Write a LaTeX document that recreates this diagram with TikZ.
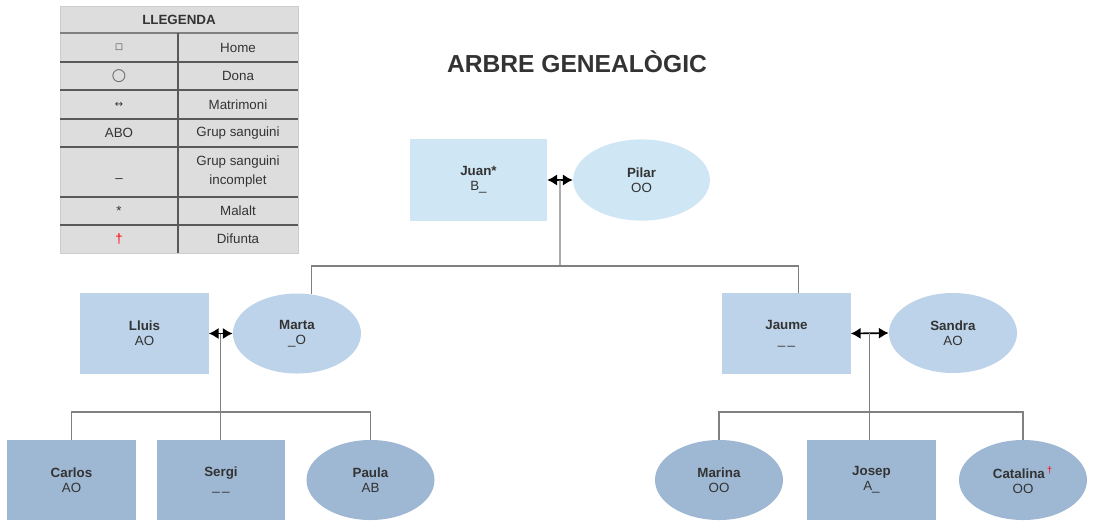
\documentclass[tikz,border=0pt]{standalone}
\usepackage{fontspec}
\setmainfont{Liberation Sans}
\newfontfamily\symfont{DejaVu Sans}
\usetikzlibrary{shapes.geometric,arrows.meta}
\definecolor{gena}{RGB}{207,230,244}
\definecolor{genb}{RGB}{189,211,233}
\definecolor{genc}{RGB}{158,184,212}
\definecolor{legfill}{RGB}{221,221,221}
\definecolor{txt}{RGB}{51,51,51}
\tikzset{
	person/.style={align=center, text=txt, inner sep=0pt, font=\fontsize{9.5}{10.6}\selectfont},
	home/.style={person, rectangle, minimum width=3.2cm, minimum height=2cm},
	dona/.style={person, ellipse, minimum width=3.2cm, minimum height=2cm},
	marriage/.style={{Latex[length=7pt,width=8pt]}-{Latex[length=7pt,width=8pt]}, line width=1.2pt},
	branch/.style={draw=gray, line width=0.8pt},
	legrule/.style={draw=black!65, line width=0.9pt},
	legtext/.style={text=txt, align=center, font=\fontsize{9.5}{13.5}\selectfont}
}
\begin{document}
\begin{tikzpicture}[x=0.025cm,y=-0.025cm]
	\useasboundingbox (0,0) rectangle (1114,522);
	\fill [legfill] (60,6) rectangle (298,253);
	\draw [gray!40] (60,6) rectangle (298,253);
	\draw [draw=gray, line width=1.6pt] (60,33) -- (298,33);
	\foreach \r in {62,90,119,147,197,225} \draw [legrule] (60,\r) -- (298,\r);
	\draw [legrule] (178,33) -- (178,253);
	\node [legtext] (lgtitle) at (179,19.5) {\textbf{LLEGENDA}};
	\node [legtext] (lsym1) at (119,47.5) {\symfont\fontsize{6}{6}\selectfont □};
	\node [legtext] (lsym2) at (119,76) {\symfont\fontsize{12}{12}\selectfont\color{black!60}○};
	\node [legtext] (lsym3) at (119,104.5) {\symfont\fontsize{7}{7}\selectfont ↔};
	\node [legtext] (lsym4) at (119,133) {ABO};
	\node [legtext] (lsym5) at (119,181) {–};
	\node [legtext] (lsym6) at (119,211) {*};
	\node [legtext] (lsym7) at (119,239) {\color{red}†};
	\node [legtext] (ltxt1) at (238,47.5) {Home};
	\node [legtext] (ltxt2) at (238,76) {Dona};
	\node [legtext] (ltxt3) at (238,104.5) {Matrimoni};
	\node [legtext] (ltxt4) at (238,133) {Grup sanguini};
	\node [legtext] (ltxt5) at (238,172) {Grup sanguini\\incomplet};
	\node [legtext] (ltxt6) at (238,211) {Malalt};
	\node [legtext] (ltxt7) at (238,239) {Difunta};
	\node [text=txt, font=\fontsize{17.5}{20}\selectfont\bfseries] (title) at (577,62) {ARBRE GENEALÒGIC};
	\node [home, fill=gena, minimum width=3.42cm, minimum height=2.05cm] (juan) at (478.5,180) {\textbf{Juan*}\\B\_};
	\node [dona, fill=gena, minimum width=3.42cm, minimum height=2.03cm] (pilar) at (641.5,180) {\textbf{Pilar}\\OO};
	\node [home, fill=genb] (lluis) at (144.5,333.5) {\textbf{Lluis}\\AO};
	\node [dona, fill=genb] (marta) at (297,333.5) {\textbf{Marta}\\\_O};
	\node [home, fill=genb] (jaume) at (786.5,333.5) {\textbf{Jaume}\\\_\,\_};
	\node [dona, fill=genb] (sandra) at (953,333) {\textbf{Sandra}\\AO};
	\node [home, fill=genc] (carlos) at (71.5,480) {\textbf{Carlos}\\AO};
	\node [home, fill=genc] (sergi) at (221,480) {\textbf{Sergi}\\\_\,\_};
	\node [dona, fill=genc] (paula) at (370.5,480) {\textbf{Paula}\\AB};
	\node [dona, fill=genc] (marina) at (719,480) {\textbf{Marina}\\OO};
	\node [home, fill=genc] (josep) at (871.5,480) {\textbf{Josep}\\A\_};
	\node [dona, fill=genc] (catalina) at (1023,480) {\textbf{Catalina}\,\textsuperscript{\color{red}†}\\OO};
	\draw [marriage] (juan.east) -- coordinate (m1) (pilar.west);
	\draw [marriage] (lluis.east) -- coordinate (m2) (marta.west);
	\draw [marriage] (jaume.east) -- coordinate (m3) (sandra.west);
	\coordinate (k1) at (560,266);
	\coordinate (k2) at (221,412);
	\coordinate (k3) at (871,412);
	\draw [branch] (m1) -- (k1);
	\draw [branch] (marta.70) |- (k1) -| ([xshift=0.31cm]jaume.north);
	\draw [branch] (m2) -- (m2 |- sergi.north);
	\draw [branch] (carlos.north) |- (k2) -| (paula.north);
	\draw [branch] (m3) -- (m3 |- josep.north);
	\draw [branch] (marina.north) |- (k3) -| (catalina.north);
\end{tikzpicture}
\end{document}
